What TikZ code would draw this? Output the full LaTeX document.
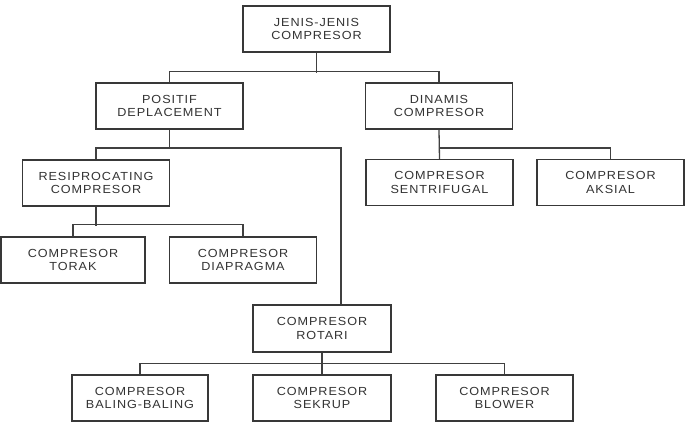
\documentclass[tikz,border=0pt]{standalone}
\usepackage{fontspec}
\setmainfont{Liberation Sans}[LetterSpace=8,FakeStretch=1.08]
\begin{document}
\begin{tikzpicture}[x=1pt,y=-1pt,
  box/.style={draw=black!78, line width=1.3pt, fill=white, inner sep=0pt,
    minimum width=147pt, minimum height=46pt, align=center, text=black!80,
    font=\fontsize{11.7}{13.4}\selectfont},
  conn/.style={draw=black!75, line width=1.3pt}]
\useasboundingbox (0,0) rectangle (686,434);
\node[box] (top) at (316.5,29) {JENIS-JENIS\\COMPRESOR};
\node[box] (pos) at (169.5,106) {POSITIF\\DEPLACEMENT};
\node[box] (din) at (439,106) {DINAMIS\\COMPRESOR};
\node[box] (res) at (96,183) {RESIPROCATING\\COMPRESOR};
\node[box] (sen) at (439.5,182.5) {COMPRESOR\\SENTRIFUGAL};
\node[box] (aks) at (610.5,182.5) {COMPRESOR\\AKSIAL};
\node[box, minimum width=144pt] (tor) at (73,260) {COMPRESOR\\TORAK};
\node[box] (dia) at (243,260) {COMPRESOR\\DIAPRAGMA};
\node[box, minimum width=138pt, minimum height=47pt] (rot) at (322,328.5) {COMPRESOR\\ROTARI};
\node[box, minimum width=136pt] (bal) at (140,398) {COMPRESOR\\BALING-BALING};
\node[box, minimum width=138pt] (sek) at (322,398) {COMPRESOR\\SEKRUP};
\node[box, minimum width=137pt] (blo) at (504.5,398) {COMPRESOR\\BLOWER};
\coordinate (bend) at (341,148);
% connectors
\draw[conn] (top.south) -- ++(0,20);
\draw[conn] (pos.north) -- ++(0,-11) -| (din.north);
\draw[conn] (pos.south) -- (pos.south |- bend);
\draw[conn] (res.north) |- (bend) -- (bend |- rot.north);
\draw[conn] (din.south) -- (sen.north);
\draw[conn] (sen.north) ++(0,-11) -| (aks.north);
\draw[conn] (res.south) -- ++(0,19);
\draw[conn] (tor.north) -- ++(0,-12) -| (dia.north);
\draw[conn] (rot.south) -- (sek.north);
\draw[conn] (bal.north) -- ++(0,-11) -| (blo.north);
\end{tikzpicture}
\end{document}
